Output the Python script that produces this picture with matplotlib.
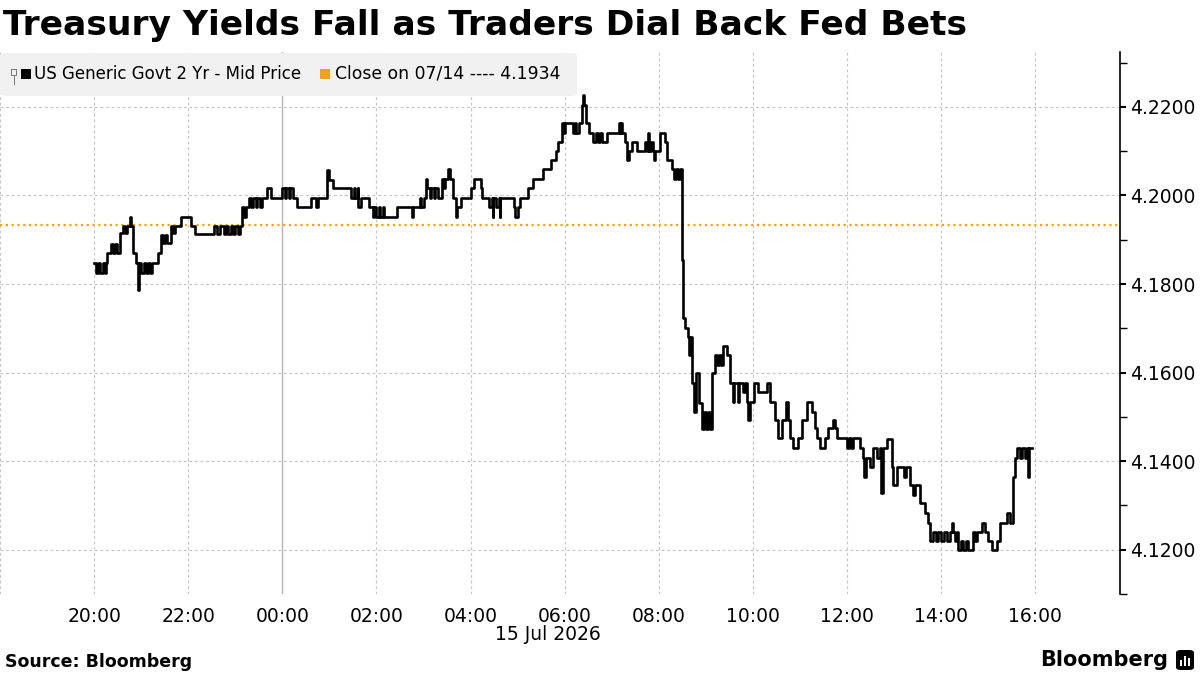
import numpy as np
import matplotlib
matplotlib.use("Agg")
import matplotlib.pyplot as plt
from matplotlib.patches import Rectangle, FancyBboxPatch
from matplotlib.lines import Line2D

# 2-year yield, step data (14 Jul 20:00 -> 15 Jul 15:56)
times = [
    "20:00", "20:03", "20:05", "20:08", "20:11", "20:14", "20:15", "20:17", "20:22", "20:24",
    "20:27", "20:29", "20:33", "20:37", "20:40", "20:42", "20:46", "20:47", "20:50", "20:54",
    "20:56", "20:57", "21:00", "21:03", "21:06", "21:09", "21:11", "21:14", "21:22", "21:25",
    "21:28", "21:31", "21:33", "21:38", "21:41", "21:43", "21:51", "22:04", "22:09", "22:33",
    "22:37", "22:41", "22:45", "22:48", "22:51", "22:55", "22:57", "23:00", "23:03", "23:06",
    "23:09", "23:11", "23:14", "23:18", "23:20", "23:23", "23:26", "23:28", "23:32", "23:34",
    "23:40", "23:45", "23:59", "00:03", "00:05", "00:08", "00:10", "00:13", "00:19", "00:37",
    "00:43", "00:45", "00:57", "01:00", "01:04", "01:28", "01:31", "01:33", "01:36", "01:37",
    "01:40", "01:51", "01:55", "01:57", "02:00", "02:03", "02:05", "02:08", "02:10", "02:26",
    "02:45", "02:46", "02:55", "02:57", "03:00", "03:03", "03:05", "03:08", "03:10", "03:13",
    "03:15", "03:18", "03:23", "03:26", "03:28", "03:31", "03:34", "03:37", "03:41", "03:43",
    "03:48", "04:01", "04:04", "04:13", "04:15", "04:24", "04:27", "04:28", "04:29", "04:33",
    "04:36", "04:37", "04:38", "04:55", "04:57", "05:00", "05:03", "05:13", "05:19", "05:32",
    "05:43", "05:49", "05:52", "05:56", "05:59", "06:01", "06:10", "06:13", "06:15", "06:18",
    "06:22", "06:23", "06:24", "06:27", "06:31", "06:36", "06:40", "06:42", "06:45", "06:47",
    "06:54", "07:09", "07:10", "07:12", "07:13", "07:17", "07:19", "07:20", "07:22", "07:26",
    "07:32", "07:42", "07:45", "07:46", "07:47", "07:50", "07:52", "07:54", "07:55", "08:01",
    "08:08", "08:11", "08:17", "08:19", "08:22", "08:24", "08:27", "08:29", "08:31", "08:34",
    "08:37", "08:38", "08:40", "08:42", "08:45", "08:48", "08:51", "08:55", "08:58", "09:00",
    "09:03", "09:05", "09:08", "09:12", "09:14", "09:17", "09:19", "09:22", "09:27", "09:31",
    "09:35", "09:36", "09:41", "09:42", "09:47", "09:50", "09:52", "09:54", "09:56", "10:01",
    "10:06", "10:18", "10:22", "10:28", "10:32", "10:37", "10:42", "10:45", "10:47", "10:51",
    "10:57", "11:03", "11:09", "11:15", "11:19", "11:22", "11:26", "11:32", "11:36", "11:42",
    "11:45", "11:47", "12:00", "12:03", "12:05", "12:08", "12:17", "12:20", "12:22", "12:24",
    "12:29", "12:33", "12:38", "12:42", "12:43", "12:46", "12:51", "12:57", "12:59", "13:04",
    "13:13", "13:15", "13:20", "13:24", "13:27", "13:33", "13:40", "13:43", "13:46", "13:50",
    "13:54", "13:56", "14:00", "14:04", "14:08", "14:11", "14:14", "14:15", "14:18", "14:20",
    "14:22", "14:25", "14:28", "14:32", "14:34", "14:40", "14:43", "14:46", "14:52", "14:56",
    "15:00", "15:05", "15:11", "15:15", "15:24", "15:28", "15:31", "15:34", "15:37", "15:41",
    "15:43", "15:47", "15:50", "15:51", "15:52", "15:56",
]
yields = [
    4.1848, 4.1825, 4.1848, 4.1825, 4.1848, 4.1825, 4.1848, 4.1870, 4.1890, 4.1870,
    4.1890, 4.1870, 4.1916, 4.1930, 4.1916, 4.1930, 4.1952, 4.1930, 4.1870, 4.1848,
    4.1787, 4.1848, 4.1825, 4.1848, 4.1825, 4.1848, 4.1825, 4.1848, 4.1870, 4.1910,
    4.1893, 4.1910, 4.1893, 4.1930, 4.1916, 4.1930, 4.1952, 4.1930, 4.1913, 4.1930,
    4.1913, 4.1930, 4.1913, 4.1930, 4.1913, 4.1930, 4.1913, 4.1930, 4.1913, 4.1930,
    4.1974, 4.1952, 4.1974, 4.1995, 4.1974, 4.1995, 4.1974, 4.1995, 4.1974, 4.1995,
    4.2017, 4.1995, 4.2017, 4.1995, 4.2017, 4.1995, 4.2017, 4.1995, 4.1974, 4.1995,
    4.1974, 4.1995, 4.2058, 4.2035, 4.2017, 4.1995, 4.2017, 4.1995, 4.2017, 4.1974,
    4.1995, 4.1974, 4.1952, 4.1974, 4.1952, 4.1974, 4.1952, 4.1974, 4.1952, 4.1974,
    4.1952, 4.1974, 4.1995, 4.1974, 4.1995, 4.2037, 4.2017, 4.1995, 4.2017, 4.1995,
    4.2017, 4.1995, 4.2037, 4.2017, 4.2037, 4.2060, 4.2037, 4.1995, 4.1952, 4.1974,
    4.1995, 4.2017, 4.2037, 4.2017, 4.1995, 4.1974, 4.1995, 4.1952, 4.1995, 4.1974,
    4.1995, 4.1952, 4.1995, 4.1974, 4.1952, 4.1974, 4.1995, 4.2017, 4.2037, 4.2060,
    4.2080, 4.2100, 4.2121, 4.2164, 4.2141, 4.2164, 4.2141, 4.2164, 4.2141, 4.2164,
    4.2205, 4.2227, 4.2205, 4.2164, 4.2141, 4.2121, 4.2141, 4.2121, 4.2141, 4.2121,
    4.2141, 4.2164, 4.2141, 4.2164, 4.2141, 4.2121, 4.2100, 4.2080, 4.2100, 4.2121,
    4.2100, 4.2121, 4.2100, 4.2141, 4.2100, 4.2121, 4.2100, 4.2080, 4.2100, 4.2141,
    4.2121, 4.2080, 4.2060, 4.2037, 4.2060, 4.2037, 4.2060, 4.1855, 4.1724, 4.1700,
    4.1680, 4.1640, 4.1680, 4.1577, 4.1511, 4.1600, 4.1532, 4.1473, 4.1511, 4.1473,
    4.1511, 4.1473, 4.1600, 4.1640, 4.1618, 4.1640, 4.1618, 4.1660, 4.1640, 4.1577,
    4.1534, 4.1577, 4.1534, 4.1577, 4.1557, 4.1577, 4.1534, 4.1494, 4.1534, 4.1577,
    4.1557, 4.1577, 4.1534, 4.1494, 4.1453, 4.1494, 4.1534, 4.1494, 4.1453, 4.1430,
    4.1453, 4.1494, 4.1534, 4.1511, 4.1475, 4.1453, 4.1430, 4.1453, 4.1475, 4.1494,
    4.1475, 4.1453, 4.1430, 4.1453, 4.1430, 4.1453, 4.1430, 4.1408, 4.1365, 4.1408,
    4.1387, 4.1430, 4.1408, 4.1430, 4.1329, 4.1430, 4.1450, 4.1387, 4.1347, 4.1387,
    4.1365, 4.1387, 4.1347, 4.1324, 4.1347, 4.1306, 4.1284, 4.1261, 4.1220, 4.1240,
    4.1220, 4.1240, 4.1220, 4.1240, 4.1220, 4.1240, 4.1261, 4.1240, 4.1220, 4.1240,
    4.1200, 4.1220, 4.1200, 4.1220, 4.1200, 4.1240, 4.1220, 4.1240, 4.1261, 4.1240,
    4.1220, 4.1200, 4.1220, 4.1261, 4.1284, 4.1261, 4.1365, 4.1408, 4.1430, 4.1408,
    4.1430, 4.1408, 4.1430, 4.1365, 4.1430, 4.1430,
]
prev_close = 4.1934

tick_hours = [-4, -2, 0, 2, 4, 6, 8, 10, 12, 14, 16]
tick_labels = ["20:00", "22:00", "00:00", "02:00", "04:00", "06:00",
               "08:00", "10:00", "12:00", "14:00", "16:00"]
y_ticks = [4.12, 4.14, 4.16, 4.18, 4.20, 4.22]


def to_hours(t):
    """HH:MM -> hours from midnight of 15 Jul (evening before is negative)."""
    h, m = map(int, t.split(":"))
    val = h + m / 60
    return val - 24 if h >= 18 else val


W, H = 1200, 675


def px(x, y):
    return x / W, 1 - y / H


fig = plt.figure(figsize=(12, 6.75), dpi=100)
fig.patch.set_facecolor("white")

ax = fig.add_axes([0, 1 - 594 / H, 1120 / W, (594 - 52) / H])
x = np.array([to_hours(t) for t in times])
ax.plot(x, yields, drawstyle="steps-post", color="black", lw=1.9, zorder=5)
ax.axhline(prev_close, color="#f2a21a", lw=1.6, ls=(0, (1, 1.6)), zorder=4)

ax.set_xlim(-6, 17.8)
ax.set_ylim(4.11, 4.2324)

# grid
grid_kw = dict(color="#c4c4c4", lw=0.8, ls=(0, (2.5, 2.5)), zorder=1)
for yv in y_ticks:
    ax.axhline(yv, **grid_kw)
for xv in [-6] + tick_hours:
    if xv == 0:
        ax.axvline(xv, color="#b4b4b4", lw=1.0, zorder=3)
    else:
        ax.axvline(xv, **grid_kw)

ax.set_xticks(tick_hours)
ax.set_xticklabels(tick_labels)
ax.tick_params(axis="x", length=0, pad=9, labelsize=13.5, colors="black")

ax.yaxis.tick_right()
ax.set_yticks(y_ticks)
ax.set_yticklabels([f"{v:.4f}" for v in y_ticks])
ax.set_yticks(np.arange(4.11, 4.2351, 0.02), minor=True)
ax.tick_params(axis="y", which="major", direction="out", length=4, width=1.5,
               pad=3, labelsize=13.5)
ax.tick_params(axis="y", which="minor", direction="out", length=5, width=1)

for s in ["top", "left", "bottom"]:
    ax.spines[s].set_visible(False)
ax.spines["right"].set_color("black")
ax.spines["right"].set_linewidth(1.2)

# legend box
fig.patches.append(FancyBboxPatch(px(0, 96), 577 / W, 43 / H,
                                  boxstyle="round,pad=0,rounding_size=0.004",
                                  transform=fig.transFigure, facecolor="#f1f1f1",
                                  edgecolor="none", zorder=2))
ly = 74
fig.add_artist(Line2D([11 / W, 16 / W, 16 / W, 11 / W, 11 / W],
                      [1 - 69 / H, 1 - 69 / H, 1 - 75 / H, 1 - 75 / H, 1 - 69 / H],
                      color="#777777", lw=0.7, zorder=6))
fig.add_artist(Line2D([13.5 / W, 13.5 / W], [1 - 75 / H, 1 - 84 / H],
                      color="#777777", lw=0.7, zorder=6))
fig.patches.append(Rectangle(px(21, 79), 10 / W, 10 / H, transform=fig.transFigure,
                             facecolor="black", edgecolor="none", zorder=6))
fig.text(*px(34, ly), "US Generic Govt 2 Yr - Mid Price", fontsize=12,
         va="center", ha="left", zorder=6)
fig.patches.append(Rectangle(px(320, 79), 10 / W, 10 / H, transform=fig.transFigure,
                             facecolor="#f2a21a", edgecolor="none", zorder=6))
fig.text(*px(335, ly), f"Close on 07/14 ---- {prev_close:.4f}", fontsize=12.4,
         va="center", ha="left", zorder=6)

# titles and footer
fig.text(*px(3, 25), "Treasury Yields Fall as Traders Dial Back Fed Bets",
         fontsize=24.8, fontweight="bold", va="center", ha="left")
fig.text(*px(548, 634), "15 Jul 2026", fontsize=13.5, ha="center", va="center")
fig.text(*px(5, 662), "Source: Bloomberg", fontsize=12.5, fontweight="bold",
         ha="left", va="center")
fig.text(*px(1168, 660), "Bloomberg", fontsize=15, fontweight="bold",
         ha="right", va="center")
fig.patches.append(FancyBboxPatch(px(1176, 670), 18 / W, 20 / H,
                                  boxstyle="round,pad=0,rounding_size=0.004",
                                  transform=fig.transFigure, facecolor="black",
                                  edgecolor="none"))
for bx, bh in [(1180, 6), (1184, 10), (1188, 8)]:
    fig.patches.append(Rectangle(px(bx, 666), 2 / W, bh / H, transform=fig.transFigure,
                                 facecolor="white", edgecolor="none"))

fig.savefig("out.png", dpi=100, facecolor="white")
